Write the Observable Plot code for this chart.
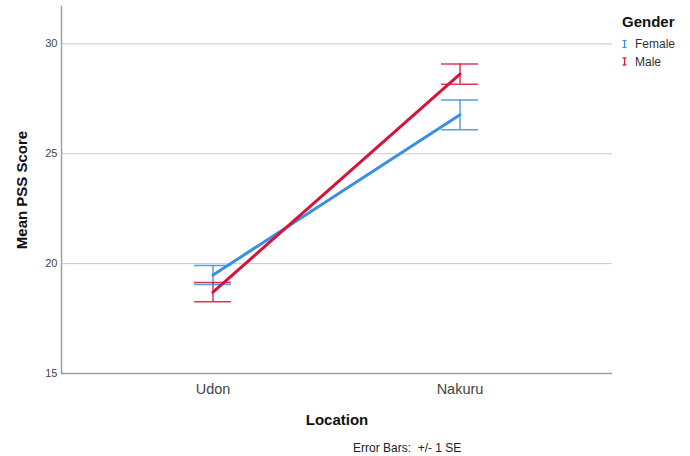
<!DOCTYPE html>
<html>
<head>
<meta charset="utf-8">
<script src="https://cdn.jsdelivr.net/npm/d3@7"></script>
<script src="https://cdn.jsdelivr.net/npm/@observablehq/plot@0.6"></script>
<style>
  html, body { margin: 0; padding: 0; background: #fff; }
  #chart { width: 690px; height: 456px; }
</style>
</head>
<body>
<div id="chart"></div>
<script>
const locations = ["Udon", "Nakuru"];
const genders = ["Female", "Male"];
const genderColors = ["#3a8ee6", "#d6133a"];
const femaleMean = [19.48, 26.77];
const femaleSE = [0.43, 0.68];
const maleMean = [18.70, 28.62];
const maleSE = [0.44, 0.46];
const yTicks = [15, 20, 25, 30];
const gridTicks = [20, 25, 30];

const rows = [];
locations.forEach((loc, i) => {
  rows.push({loc, gender: "Female", mean: femaleMean[i], lo: femaleMean[i] - femaleSE[i], hi: femaleMean[i] + femaleSE[i]});
  rows.push({loc, gender: "Male", mean: maleMean[i], lo: maleMean[i] - maleSE[i], hi: maleMean[i] + maleSE[i]});
});

const font = "'Liberation Sans', Arial, sans-serif";

const plot = Plot.plot({
  width: 690,
  height: 456,
  marginLeft: 61,
  marginRight: 78,
  marginTop: 6,
  marginBottom: 83,
  style: {fontFamily: font, background: "#fff", color: "#444"},
  x: {type: "band", domain: locations, paddingInner: 0.85, paddingOuter: 0.54, label: null},
  y: {domain: [15, 31.7], label: null},
  color: {domain: genders, range: genderColors},
  marks: [
    Plot.gridY(gridTicks, {stroke: "#c8c8c8", strokeOpacity: 1, strokeWidth: 1}),
    Plot.ruleY([15], {stroke: "#a0a0a0", strokeWidth: 1.5}),
    Plot.frame({anchor: "left", stroke: "#a0a0a0", strokeWidth: 1.5}),
    Plot.axisY(yTicks, {tickSize: 0, tickPadding: 4, fontSize: 11, fill: "#444"}),
    Plot.axisX({tickSize: 0, tickPadding: 10, fontSize: 14.5, fill: "#444"}),
    Plot.ruleX(rows, {x: "loc", y1: "lo", y2: "hi", stroke: "gender", strokeWidth: 1.5, strokeOpacity: 0.85}),
    Plot.tickY(rows, {x: "loc", y: "lo", stroke: "gender", strokeWidth: 1.5, strokeOpacity: 0.85}),
    Plot.tickY(rows, {x: "loc", y: "hi", stroke: "gender", strokeWidth: 1.5, strokeOpacity: 0.85}),
    Plot.line(rows, {x: "loc", y: "mean", z: "gender", stroke: "gender", strokeWidth: 3})
  ]
});

const svg = d3.select(plot);
svg.append("text")
  .attr("transform", "translate(27,190) rotate(-90)")
  .attr("text-anchor", "middle")
  .attr("font-size", 15).attr("font-weight", "bold").attr("fill", "#111")
  .text("Mean PSS Score");
svg.append("text")
  .attr("x", 337).attr("y", 425)
  .attr("text-anchor", "middle")
  .attr("font-size", 15).attr("font-weight", "bold").attr("fill", "#111")
  .text("Location");
svg.append("text")
  .attr("x", 353).attr("y", 452)
  .attr("text-anchor", "start")
  .attr("font-size", 12).attr("fill", "#222")
  .attr("xml:space", "preserve")
  .text("Error Bars:  +/- 1 SE");

// Legend
svg.append("text")
  .attr("x", 622).attr("y", 27)
  .attr("text-anchor", "start")
  .attr("font-size", 15).attr("font-weight", "bold").attr("fill", "#111")
  .text("Gender");
genders.forEach((g, i) => {
  const cy = 44 + i * 17.5;
  const c = genderColors[i];
  const gg = svg.append("g").attr("stroke", c).attr("stroke-width", 1.2);
  gg.append("line").attr("x1", 624.5).attr("x2", 624.5).attr("y1", cy - 3.5).attr("y2", cy + 3.5);
  gg.append("line").attr("x1", 622.5).attr("x2", 626.5).attr("y1", cy - 3.5).attr("y2", cy - 3.5);
  gg.append("line").attr("x1", 622.5).attr("x2", 626.5).attr("y1", cy + 3.5).attr("y2", cy + 3.5);
  svg.append("text")
    .attr("x", 635).attr("y", cy + 4)
    .attr("text-anchor", "start")
    .attr("font-size", 12).attr("fill", "#333")
    .text(g);
});

document.getElementById("chart").appendChild(plot);
</script>
</body>
</html>
